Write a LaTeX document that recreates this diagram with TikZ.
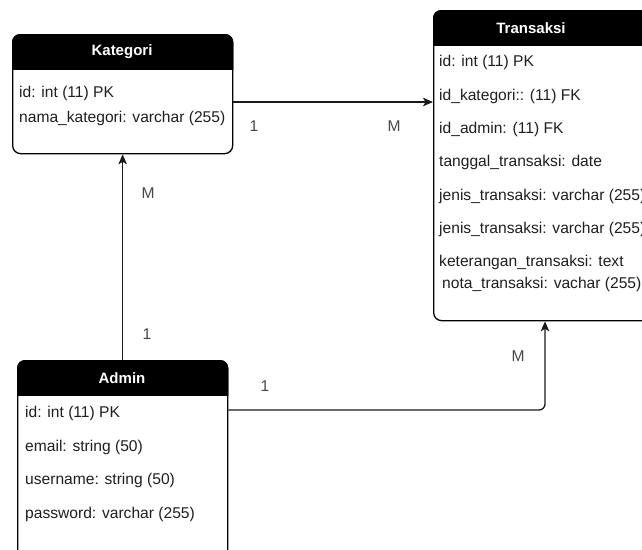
\documentclass[tikz,border=0pt]{standalone}
\usepackage{fontspec}
\setmainfont{Liberation Sans}
\usetikzlibrary{arrows.meta,calc}

\begin{document}
\begin{tikzpicture}[x=1pt,y=-1pt,
  entity/.style={draw=black, line width=1.3pt, rounded corners=8pt, fill=white,
    inner sep=0pt, anchor=north west},
  headfill/.style={fill=black, rounded corners=8pt},
  title/.style={text=white, font=\bfseries\fontsize{15}{18}\selectfont, inner sep=0pt},
  field/.style={anchor=west, inner sep=0pt, text=black!88,
    font=\fontsize{15.6}{18}\selectfont},
  card/.style={inner sep=0pt, text=black!72, font=\fontsize{15.6}{18}\selectfont},
  link/.style={draw=black!90, line width=1.3pt, rounded corners=6pt,
    -{Stealth[length=10pt,width=8.5pt,inset=2.5pt]}}
]
\useasboundingbox (0,0) rectangle (642,549);
\clip (0,0) rectangle (642,549);

% ---------- Kategori ----------
\node[entity, minimum width=220pt, minimum height=119pt] (kat) at (12,34) {};
\begin{scope}
  \clip (kat.north west) rectangle ([yshift=-35pt]kat.north east);
  \path[headfill] (kat.north west) rectangle (kat.south east);
\end{scope}
\node[title] (katT) at (122,52) {Kategori};
\node[field] (kat1) at (19,93) {id: int (11) PK};
\node[field] (kat2) at (19,118) {nama\_kategori: varchar (255)};

% ---------- Transaksi ----------
\node[entity, minimum width=280pt, minimum height=310pt] (trx) at (433,10) {};
\begin{scope}
  \clip (trx.north west) rectangle ([yshift=-35pt]trx.north east);
  \path[headfill] (trx.north west) rectangle (trx.south east);
\end{scope}
\node[title] (trxT) at (531,28) {Transaksi};
\node[field] (trx1) at (439,62) {id: int (11) PK};
\node[field] (trx2) at (439,96) {id\_kategori:: (11) FK};
\node[field] (trx3) at (439,129) {id\_admin: (11) FK};
\node[field] (trx4) at (439,162) {tanggal\_transaksi: date};
\node[field] (trx5) at (439,196) {jenis\_transaksi: varchar (255)};
\node[field] (trx6) at (439,229) {jenis\_transaksi: varchar (255)};
\node[field] (trx7) at (439,262) {keterangan\_transaksi: text};
\node[field] (trx8) at (442,284) {nota\_transaksi: vachar (255)};

% ---------- Admin ----------
\node[entity, minimum width=210pt, minimum height=240pt] (adm) at (17,360) {};
\begin{scope}
  \clip (adm.north west) rectangle ([yshift=-35pt]adm.north east);
  \path[headfill] (adm.north west) rectangle (adm.south east);
\end{scope}
\node[title] (admT) at (122,378) {Admin};
\node[field] (adm1) at (25,413) {id: int (11) PK};
\node[field] (adm2) at (25,447) {email: string (50)};
\node[field] (adm3) at (25,480) {username: string (50)};
\node[field] (adm4) at (25,514) {password: varchar (255)};

% ---------- relations ----------
\path ($(kat.north east)+(0,68)$) coordinate (k1);
\draw[link] (k1) -- (k1 -| trx.west);

\draw[link] (adm.north) -- (kat.south);

\path ($(adm.north east)+(0,50)$) coordinate (a1);
\path ($(trx.south west)+(112,0)$) coordinate (t1);
\draw[link] (a1) -| (t1);

% ---------- cardinalities ----------
\node[card] (c1) at (254,126) {1};
\node[card] (c2) at (394,126) {M};
\node[card] (c3) at (148,193) {M};
\node[card] (c4) at (147,334) {1};
\node[card] (c5) at (265,386) {1};
\node[card] (c6) at (518,356) {M};
\end{tikzpicture}
\end{document}
